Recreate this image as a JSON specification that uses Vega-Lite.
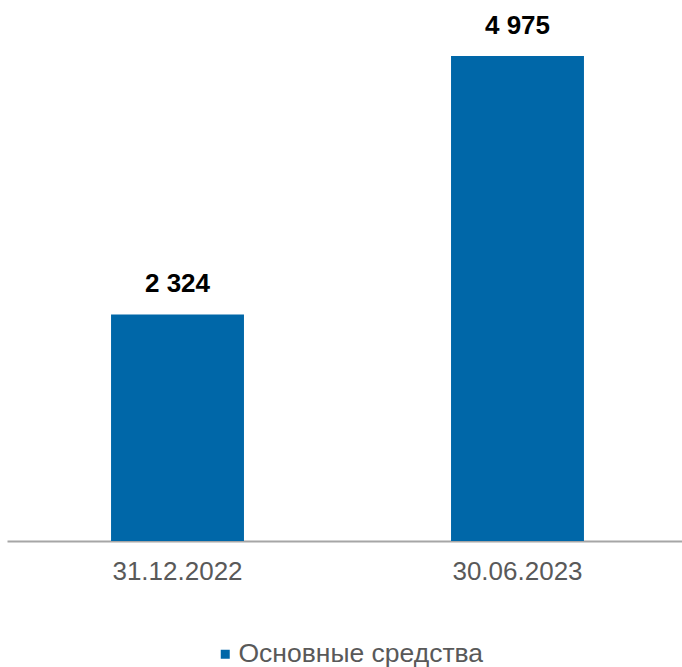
{
  "$schema": "https://vega.github.io/schema/vega-lite/v6.json",
  "width": 681,
  "height": 541,
  "autosize": {"type": "none"},
  "padding": {"left": 7, "top": 0, "right": 0, "bottom": 126},
  "background": "white",
  "config": {
    "view": {"stroke": null},
    "font": "Liberation Sans"
  },
  "data": {
    "values": [
      {"date": "31.12.2022", "value": 2324, "label": "2 324", "series": "Основные средства"},
      {"date": "30.06.2023", "value": 4975, "label": "4 975", "series": "Основные средства"}
    ]
  },
  "encoding": {
    "x": {
      "field": "date",
      "type": "nominal",
      "sort": null,
      "scale": {"paddingInner": 0.609, "paddingOuter": 0.306},
      "axis": {
        "title": null,
        "labelAngle": 0,
        "labelFontSize": 26,
        "labelColor": "#595959",
        "labelPadding": 17,
        "ticks": false,
        "domainColor": "#a6a6a6",
        "domainWidth": 2
      }
    },
    "y": {
      "field": "value",
      "type": "quantitative",
      "scale": {"domain": [0, 5550]},
      "axis": null
    }
  },
  "layer": [
    {
      "mark": {"type": "bar", "color": "#0067A8"},
      "encoding": {
        "color": {
          "field": "series",
          "type": "nominal",
          "scale": {"range": ["#0067A8"]},
          "legend": {
            "title": null,
            "orient": "none",
            "legendX": 205,
            "legendY": 641,
            "padding": 0,
            "symbolType": "square",
            "symbolSize": 81,
            "symbolStrokeWidth": 0,
            "labelFontSize": 26.5,
            "labelColor": "#595959",
            "labelOffset": 0,
            "labelLimit": 400
          }
        }
      }
    },
    {
      "mark": {"type": "text", "fontSize": 26, "fontWeight": "bold", "color": "#000000", "baseline": "alphabetic", "dy": -22},
      "encoding": {"text": {"field": "label"}}
    }
  ]
}
